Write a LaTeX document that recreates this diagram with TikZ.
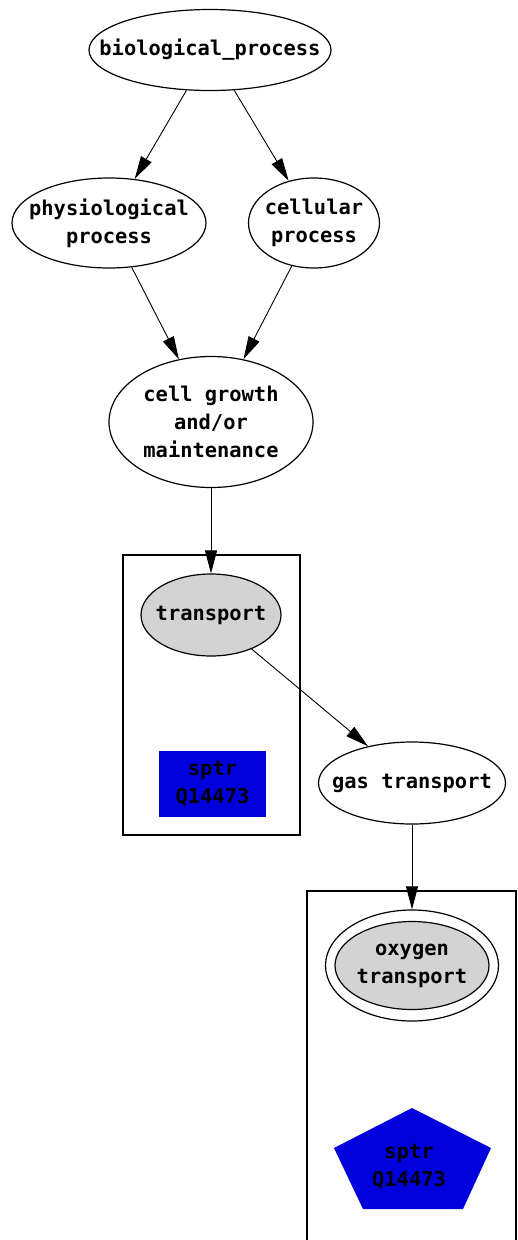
\documentclass[tikz,border=0pt]{standalone}
\usepackage{fontspec}
\setmonofont{DejaVu Sans Mono}
\usetikzlibrary{shapes.geometric,arrows.meta}
\definecolor{sptrblue}{HTML}{0000DD}
\definecolor{termgray}{HTML}{D3D3D3}
\begin{document}
\begin{tikzpicture}[x=1pt,y=-1pt,
  every node/.style={font=\ttfamily\bfseries\fontsize{20.4}{28}\selectfont, align=center, inner sep=0pt},
  term/.style={ellipse, draw, line width=1.2pt},
  hit/.style={term, fill=termgray},
  edge/.style={line width=0.9pt, -{Triangle[length=23pt,width=12pt]}},
  cluster/.style={draw, line width=1.2pt}]
\useasboundingbox (0,0) rectangle (517,1240);
% clusters
\draw[cluster] (123,555) rectangle (300,835);
\draw[cluster] (307,1245) -- (307,891) -- (516,891) -- (516,1245);
% shapes
\node[term, minimum width=242pt, minimum height=81pt] (bio) at (210,50) {};
\node[term, minimum width=194pt, minimum height=90pt] (phys) at (109,223) {};
\node[term, minimum width=131pt, minimum height=90pt] (cell) at (314,223) {};
\node[term, minimum width=204pt, minimum height=131pt] (grow) at (211,422) {};
\node[hit, minimum width=140pt, minimum height=82pt] (trans) at (211,615) {};
\node[fill=sptrblue, minimum width=107pt, minimum height=66pt] (sptra) at (212.5,784) {};
\node[term, minimum width=187pt, minimum height=82pt] (gas) at (412,783) {};
\node[term, fill=white, minimum width=173pt, minimum height=111pt] (oxy) at (412,965.5) {};
\node[hit, minimum width=154pt, minimum height=88pt] (oxyin) at (412,965.5) {};
\fill[sptrblue] (412,1108) -- (491,1148) -- (463,1209) -- (363,1209) -- (334,1148) -- cycle;
% labels
\node (biot) at (bio) {biological\_process};
\node (physt) at (phys) {physiological\\process};
\node (cellt) at (cell) {cellular\\process};
\node (growt) at (grow) {cell growth\\and/or\\maintenance};
\node (transt) at (trans) {transport};
\node (sptrat) at (sptra) {sptr\\Q14473};
\node (gast) at (gas) {gas transport};
\node (oxyt) at (oxy) {oxygen\\transport};
\node (sptrbt) at (409,1167) {sptr\\Q14473};
% edges
\draw[edge] (bio) -- (phys);
\draw[edge] (bio) -- (cell);
\draw[edge] (phys) -- (grow);
\draw[edge] (cell) -- (grow);
\draw[edge] (grow) -- (trans);
\draw[edge] (trans) -- (gas);
\draw[edge] (gas) -- (oxy);
\end{tikzpicture}
\end{document}
